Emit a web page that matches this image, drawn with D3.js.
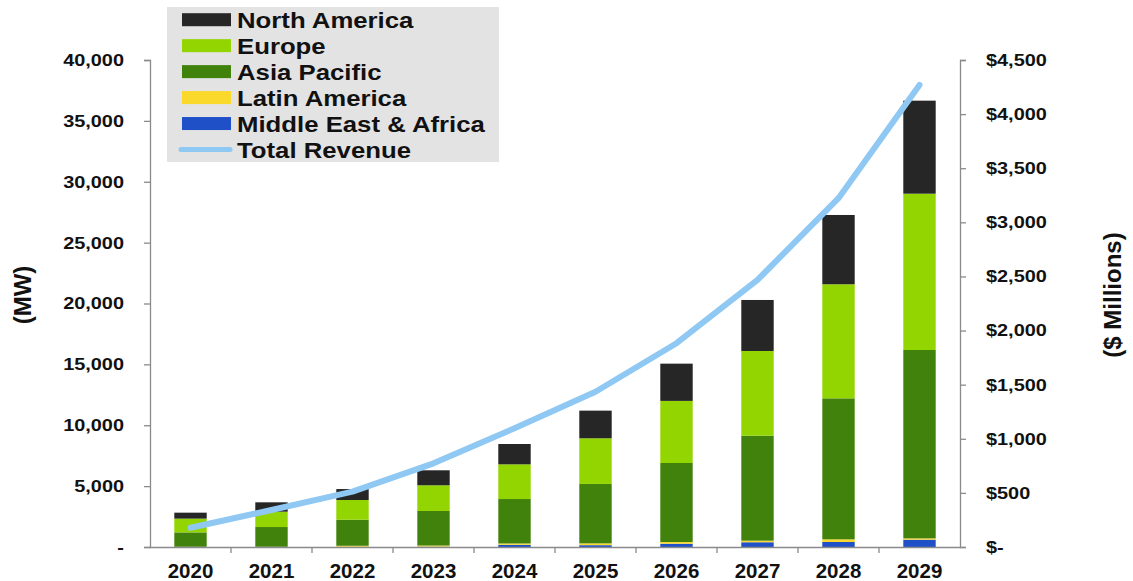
<!DOCTYPE html>
<html>
<head>
<meta charset="utf-8">
<script src="https://cdn.jsdelivr.net/npm/d3@7"></script>
<style>
  html, body { margin: 0; padding: 0; background: #fff; }
  svg { display: block; }
  text { font-family: "Liberation Sans", Arial, sans-serif; font-weight: bold; fill: #111; }
</style>
</head>
<body>
<svg id="chart" width="1133" height="581"></svg>
<script>
// ---- data ----
const years = ["2020","2021","2022","2023","2024","2025","2026","2027","2028","2029"];
const middleEastAfrica = [10, 10, 20, 30, 180, 150, 270, 390, 410, 600];
const latinAmerica     = [10, 10, 80, 90, 110, 150, 140, 130, 220, 110];
const asiaPacific      = [1180, 1620, 2140, 2840, 3650, 4880, 6490, 8620, 11580, 15470];
const europe           = [1130, 1260, 1620, 2110, 2850, 3750, 5100, 6960, 9370, 12840];
const northAmerica     = [490, 770, 900, 1230, 1670, 2270, 3060, 4190, 5690, 7640];
const totalRevenue     = [178, 342, 511, 773, 1097, 1435, 1883, 2468, 3223, 4270];
const leftTicks  = [0, 5000, 10000, 15000, 20000, 25000, 30000, 35000, 40000];
const rightTicks = [0, 500, 1000, 1500, 2000, 2500, 3000, 3500, 4000, 4500];
const seriesNames = ["Middle East & Africa", "Latin America", "Asia Pacific", "Europe", "North America"];
const seriesData  = [middleEastAfrica, latinAmerica, asiaPacific, europe, northAmerica];
const legendOrder = ["North America", "Europe", "Asia Pacific", "Latin America", "Middle East & Africa", "Total Revenue"];

const colors = {
  "North America": "#262626",
  "Europe": "#93d500",
  "Asia Pacific": "#40820c",
  "Latin America": "#fbd92c",
  "Middle East & Africa": "#2050c8",
  "Total Revenue": "#8ec8f3"
};

// ---- layout ----
const svg = d3.select("#chart");
const mLeft = 150, mRight = 960, mTop = 60, mBottom = 547;

const x = d3.scaleBand().domain(years).range([mLeft, mRight]).paddingInner(0.6).paddingOuter(0.3);
const y = d3.scaleLinear().domain([0, 40000]).range([mBottom, mTop]);
const yR = d3.scaleLinear().domain([0, 4500]).range([mBottom, mTop]);

// stacked data
const rows = years.map((yr, i) => {
  const r = { year: yr };
  seriesNames.forEach((s, j) => r[s] = seriesData[j][i]);
  return r;
});
const stack = d3.stack().keys(seriesNames)(rows);

svg.append("g").selectAll("g").data(stack).join("g")
  .attr("fill", d => colors[d.key])
  .selectAll("rect").data(d => d).join("rect")
  .attr("x", d => x(d.data.year))
  .attr("width", x.bandwidth())
  .attr("y", d => y(d[1]))
  .attr("height", d => y(d[0]) - y(d[1]));

// axes
const axisColor = "#8a8a8a";
const gL = svg.append("g").attr("transform", `translate(${mLeft},0)`)
  .call(d3.axisLeft(y).tickValues(leftTicks).tickSize(6)
    .tickFormat(d => d === 0 ? "-" : d3.format(",")(d)));
const gR = svg.append("g").attr("transform", `translate(${mRight},0)`)
  .call(d3.axisRight(yR).tickValues(rightTicks).tickSize(6)
    .tickFormat(d => d === 0 ? "$-" : "$" + d3.format(",")(d)));
[gL, gR].forEach(g => {
  g.select(".domain").attr("stroke", axisColor).attr("stroke-width", 1.3);
  g.selectAll(".tick line").attr("stroke", axisColor).attr("stroke-width", 1.3);
  g.selectAll(".tick text").attr("font-size", 17).attr("fill", "#111")
    .attr("font-family", "'Liberation Sans', Arial, sans-serif").attr("font-weight", "bold")
    .attr("x", 0);
});
gL.selectAll(".tick text").attr("text-anchor", "end").attr("transform", "translate(-26,0) scale(1.17,1)");
gR.selectAll(".tick text").attr("text-anchor", "start").attr("transform", "translate(26,0) scale(1.17,1)");

// bottom axis
const gB = svg.append("g").attr("transform", `translate(0,${mBottom})`)
  .call(d3.axisBottom(x).tickSize(0).tickPadding(0));
gB.select(".domain").attr("stroke", axisColor).attr("stroke-width", 1.3);
gB.selectAll(".tick text").attr("font-size", 20.5).attr("fill", "#111")
  .attr("font-family", "'Liberation Sans', Arial, sans-serif").attr("font-weight", "bold")
  .attr("dy", 0).attr("y", 31);
// category boundary ticks
const step = x.step();
const bounds = years.slice(1).map(yr => x(yr) - step * x.paddingInner() / 2);
gB.selectAll(".cat-tick").data(bounds).join("line")
  .attr("class", "cat-tick")
  .attr("x1", d => d).attr("x2", d => d).attr("y1", 0).attr("y2", 6)
  .attr("stroke", axisColor).attr("stroke-width", 1.3);

// revenue line
const line = d3.line().x((d, i) => x(years[i]) + x.bandwidth() / 2).y(d => yR(d));
svg.append("path").datum(totalRevenue)
  .attr("d", line).attr("fill", "none")
  .attr("stroke", colors["Total Revenue"]).attr("stroke-width", 6)
  .attr("stroke-linecap", "round").attr("stroke-linejoin", "round");

// axis titles
svg.append("text").attr("transform", "translate(31,295) rotate(-90)")
  .attr("text-anchor", "middle").attr("font-size", 24).text("(MW)");
svg.append("text").attr("transform", "translate(1121,295) rotate(-90)")
  .attr("text-anchor", "middle").attr("font-size", 24).text("($ Millions)");

// legend
const lg = svg.append("g");
lg.append("rect").attr("x", 167).attr("y", 7).attr("width", 332).attr("height", 155).attr("fill", "#e3e3e3");
const rowY = d3.scaleLinear().domain([0, 5]).range([19.7, 149.5]);
legendOrder.forEach((name, i) => {
  const cy = rowY(i);
  if (name === "Total Revenue") {
    lg.append("line").attr("x1", 181).attr("x2", 230).attr("y1", cy).attr("y2", cy)
      .attr("stroke", colors[name]).attr("stroke-width", 5).attr("stroke-linecap", "round");
  } else {
    lg.append("rect").attr("x", 182).attr("y", cy - 6.5).attr("width", 49).attr("height", 13)
      .attr("fill", colors[name]);
  }
  lg.append("text").attr("transform", `translate(237,${cy + 8}) scale(1.17,1)`)
    .attr("font-size", 22).text(name);
});
</script>
</body>
</html>
